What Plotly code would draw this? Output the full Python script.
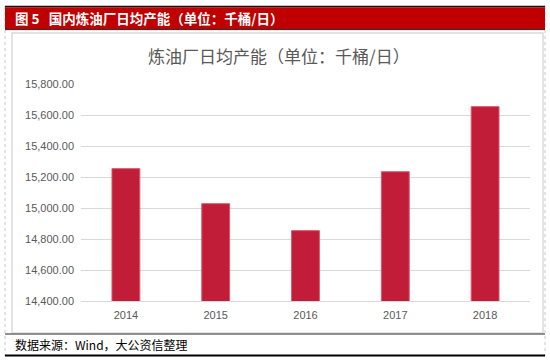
import plotly.graph_objects as go

# ---- data ----
years = ["2014", "2015", "2016", "2017", "2018"]
capacity = [15254, 15028, 14854, 15234, 15654]
y_ticks = [14400, 14600, 14800, 15000, 15200, 15400, 15600, 15800]
y_tick_labels = [f"{v:,.2f}" for v in y_ticks]

header_text = "图 5   国内炼油厂日均产能（单位：千桶/日）"
chart_title = "炼油厂日均产能（单位：千桶/日）"
source_text = "数据来源：Wind，大公资信整理"

# ---- layout geometry (pixels) ----
W, H = 550, 363
L, R, T, B = 81, 20, 84, 62
PW = W - L - R
PH = H - T - B


def px(x):
    return (x - L) / PW


def py(y):
    return (H - B - y) / PH


fig = go.Figure()
fig.add_trace(go.Bar(
    x=years, y=capacity, width=0.31,
    marker=dict(color="#C21D38", line=dict(color="#D9586C", width=1)),
    hoverinfo="x+y",
))

shapes = []
# outer dashed side borders
for xx in (5, 545):
    shapes.append(dict(type="line", xref="paper", yref="paper",
                       x0=px(xx), x1=px(xx), y0=py(6), y1=py(356),
                       line=dict(color="#C8C8C8", width=1, dash="dot")))
# black top line
shapes.append(dict(type="line", xref="paper", yref="paper",
                   x0=px(5), x1=px(545), y0=py(6.5), y1=py(6.5),
                   line=dict(color="#111111", width=1.5)))
# red header band
shapes.append(dict(type="rect", xref="paper", yref="paper",
                   x0=px(5), x1=px(545), y0=py(7.3), y1=py(29.3),
                   fillcolor="#C00000", line=dict(width=0)))
shapes.append(dict(type="line", xref="paper", yref="paper",
                   x0=px(5), x1=px(545), y0=py(29.6), y1=py(29.6),
                   line=dict(color="#222222", width=1)))
# chart box
shapes.append(dict(type="rect", xref="paper", yref="paper",
                   x0=px(12), x1=px(543), y0=py(33), y1=py(333),
                   fillcolor="rgba(0,0,0,0)", line=dict(color="#DADADA", width=1.5)))
# bottom dark line under chart box
shapes.append(dict(type="line", xref="paper", yref="paper",
                   x0=px(5), x1=px(545), y0=py(334), y1=py(334),
                   line=dict(color="#6E6E6E", width=1.5)))
# black bottom line
shapes.append(dict(type="line", xref="paper", yref="paper",
                   x0=px(5), x1=px(545), y0=py(355.5), y1=py(355.5),
                   line=dict(color="#000000", width=2)))

annotations = [
    dict(text="<b>" + header_text + "</b>", xref="paper", yref="paper",
         x=px(13), y=py(18.5), xanchor="left", yanchor="middle", showarrow=False,
         font=dict(family="Noto Sans CJK SC", size=13.5, color="#FFFFFF")),
    dict(text=chart_title, xref="paper", yref="paper",
         x=px(278.5), y=py(55), xanchor="center", yanchor="middle", showarrow=False,
         font=dict(family="Noto Sans CJK SC", size=17, color="#595959")),
    dict(text=source_text, xref="paper", yref="paper",
         x=px(13), y=py(344.5), xanchor="left", yanchor="middle", showarrow=False,
         font=dict(family="Noto Sans CJK SC", size=12, color="#000000")),
]

fig.update_layout(
    width=W, height=H,
    margin=dict(l=L, r=R, t=T, b=B, pad=0),
    paper_bgcolor="#FFFFFF", plot_bgcolor="#FFFFFF",
    showlegend=False,
    shapes=shapes,
    annotations=annotations,
    xaxis=dict(type="category", showgrid=False, showline=True, linecolor="#D9D9D9",
               linewidth=1, ticks="", zeroline=False,
               tickfont=dict(family="Liberation Sans", size=11, color="#595959"),
               ticklabelstandoff=4),
    yaxis=dict(range=[14400, 15800], tickvals=y_ticks, ticktext=y_tick_labels,
               showgrid=True, gridcolor="#D9D9D9", gridwidth=1, zeroline=False,
               showline=False, ticks="",
               tickfont=dict(family="Liberation Sans", size=11, color="#595959"),
               ticklabelstandoff=6),
    bargap=0.69,
)

fig.write_html(
    "out.html",
    config={"displayModeBar": False},
    post_script="document.body.style.margin='0px';document.body.style.overflow='hidden';",
)
